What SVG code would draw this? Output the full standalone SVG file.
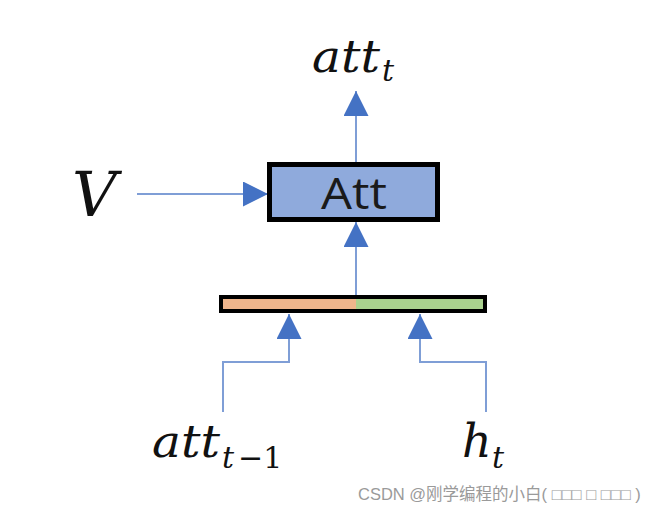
<svg xmlns="http://www.w3.org/2000/svg" width="670" height="514" viewBox="0 0 670 514">
<style>
.math{font-family:"DejaVu Serif","Liberation Serif",serif;font-style:italic;fill:#111;}
.up{font-style:normal;}
.conn{stroke:#7f9ed6;stroke-width:2;fill:none;}
.box{stroke:#000;stroke-width:5;}
</style>
<defs>
<marker id="ah" markerWidth="25" markerHeight="25" viewBox="0 0 25 25" refX="25" refY="12.5" markerUnits="userSpaceOnUse" orient="auto">
<path d="M0,0 L25,12.5 L0,25 Z" fill="#4472c4"/>
</marker>
</defs>
<rect width="670" height="514" fill="#fff"/>
<g id="connectors">
<path class="conn" d="M356,162 L356,91" marker-end="url(#ah)"/>
<path class="conn" d="M137,194 L268,194" marker-end="url(#ah)"/>
<path class="conn" d="M356,295 L356,222" marker-end="url(#ah)"/>
<path class="conn" d="M223,412 L223,362 L289,362 L289,314" marker-end="url(#ah)"/>
<path class="conn" d="M486,412 L486,362 L420,362 L420,314" marker-end="url(#ah)"/>
</g>
<g id="att-box">
<rect class="box" x="269.5" y="164.5" width="168" height="55" fill="#8faadc"/>
<text x="354" y="209" font-family="Open Sans, Noto Sans, sans-serif" font-size="44" fill="#1a1a1a" text-anchor="middle" textLength="66" lengthAdjust="spacingAndGlyphs">Att</text>
</g>
<g id="concat-bar">
<rect x="221" y="297" width="135" height="14" fill="#efb58c"/>
<rect x="356" y="297" width="129" height="14" fill="#a9d18e"/>
<rect x="221" y="297" width="264" height="14" fill="none" stroke="#000" stroke-width="4"/>
</g>
<g id="label-att-t">
<text class="math" x="312" y="72" font-size="44" textLength="68" lengthAdjust="spacingAndGlyphs">att</text>
<text class="math" x="382" y="81" font-size="30">t</text>
</g>
<g id="label-V">
<text class="math" x="72" y="216" font-size="62">V</text>
</g>
<g id="label-att-t-1">
<text class="math" x="152" y="457" font-size="44" textLength="68" lengthAdjust="spacingAndGlyphs">att</text>
<text class="math" x="222" y="468" font-size="30">t</text>
<text class="math up" x="238" y="468" font-size="30">−1</text>
</g>
<g id="label-h-t">
<text class="math" x="462" y="457" font-size="46">h</text>
<text class="math" x="492" y="468" font-size="30">t</text>
</g>
<text x="358" y="500" font-family="Liberation Sans, Noto Sans CJK SC, sans-serif" font-size="16.5" fill="#9a9a9a">CSDN @刚学编程的小白( □□□ □ □□□ )</text>
</svg>
